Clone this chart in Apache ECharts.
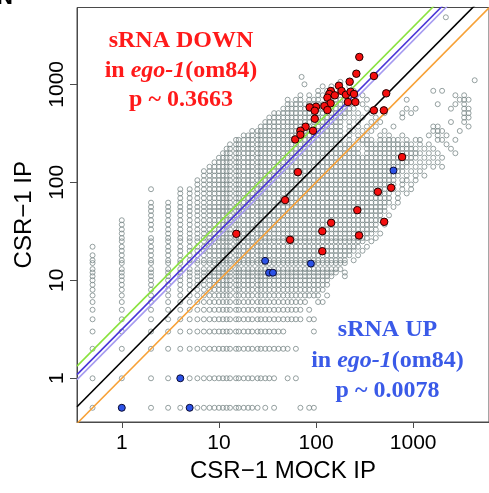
<!DOCTYPE html>
<html><head><meta charset="utf-8">
<script src="https://cdn.jsdelivr.net/npm/echarts@6/dist/echarts.min.js"></script>
<style>html,body{margin:0;padding:0;background:#fff;overflow:hidden}#c{width:489px;height:493px}</style>
</head><body><div id="c"></div>
<script>
// ---- data ----
const tickValues = [1, 10, 100, 1000];
// x values of the gray gene cloud (columns)
const xLadder = [0.5,1,2,3,4,5,6,7,8,9,
  10,11,12,13,15,16,18,20,22,25,
  27,30,33,37,41,46,51,56,62,69,
  77,85,95,105,117,130,144,160,178,198,
  220,244,271,301,334,371,412,458,508,564,
  627,696,773,858,953,1060,1175,1305,1450,1610,
  1790,1985,2205,2450,2720,3020,3350,3720,4130,4590];
// y values of the gray gene cloud (rows, top to bottom)
const yLadder = [1060,953,858,773,696,627,564,508,458,412,
  371,334,301,271,244,220,198,178,160,144,
  130,117,105,95,85,77,69,62,56,51,
  46,41,37,33,30,27,25,22,20,18,
  16,15,13,12,11,10,9,8,7,6,
  5,4,3,2,1,0.5];
// occupancy of each (row, column): 'o' = a gray gene is there
const grayMask = [
".......... .......... .......... ........o. .......... .......... ..........",
".......... .......... .......... ....o.o... o......... .......... ..........",
".......... .......... .......... ...o.o..o. .o........ .........o .o........",
".......... .......... .........o .o.oo.oo.o .o.o...... .......... ....o.o...",
".......... .......... ......o.oo .ooo.o.oo. o...o..... ...o...... .....ooo..",
".......... .......... ......oooo oooooooooo o..o...... .......... o...o.o...",
".......... .......... .....ooooo oooooooooo oo..o..... ...o.o.... ...o..oo..",
".......... .......... ...ooooooo oooooooooo o.o..o..o. ..o.o..... ......oo..",
".......... .......... ..oooooooo oooooooooo .o.o..o... ..o....... ......oo..",
".......... .......... .ooooooooo ooooooooo. o.o..o.o.. .......... ...o..o...",
".......... .......... oooooooooo ooooooooo. o.o.o.o... o........o o......o..",
".......... ........oo oooooooooo ooooooooo. oo.o.o..o. .........o oo...o....",
".......... ......oooo oooooooooo ooooooooo. o.o.o..o.o ..o.....o. o.o.......",
".......... ....oooooo oooooooooo ooooooooo. o.oooo.ooo oo.o.oo... oo..o.....",
".......... ...ooooooo oooooooooo oooooooooo oo.ooooooo ooooo.o.o. ..o.......",
".......... ..oooooooo oooooooooo oooooooooo ooo.oooooo oooooo.o.o ...o......",
".......... .ooooooooo oooooooooo oooooooooo ooo.oooooo ooooooo.o. o...o.....",
".......... oooooooooo oooooooooo oooooooooo oooooooooo oooooo.o.o .o........",
".........o oooooooooo oooooooooo oooooooooo oooooooooo ooooo.o.o. o.........",
"........oo oooooooooo oooooooooo oooooooooo oooooooooo oooo.o.o.o .o........",
".......ooo oooooooooo oooooooooo oooooooooo oooooooooo ooo.o.o... ..........",
".......ooo oooooooooo oooooooooo oooooooooo oooooooooo oo.o.o.o.. ..........",
"......oooo oooooooooo oooooooooo oooooooooo oooooooooo o.oo.o.... ..........",
"......oooo oooooooooo oooooooooo oooooooooo oooooooooo o.o.o..... ..........",
"..o.oooooo oooooooooo oooooooooo oooooooooo ooooooooo. o.o.o..... ..........",
"....oooooo oooooooooo oooooooooo oooooooooo oooooooooo .o.o...... ..........",
"....oooooo oooooooooo oooooooooo oooooooooo oooooooooo .o........ ..........",
"..oooooooo oooooooooo oooooooooo oooooooooo oooooooooo .o........ ..........",
"..oooooooo oooooooooo oooooooooo oooooooooo ooooooooo. o......... ..........",
"..oooooooo oooooooooo oooooooooo oooooooooo ooooooooo. .......... ..........",
"..oooooooo oooooooooo oooooooooo oooooooooo oooooooo.o .......... ..........",
".ooooooooo oooooooooo oooooooooo oooooooooo oooooooo.. .......... ..........",
".ooooooooo oooooooooo oooooooooo oooooooooo ooooooo.o. .......... ..........",
".ooooooooo oooooooooo oooooooooo oooooooooo ooooooo... .......... ..........",
".o.ooooooo oooooooooo oooooooooo oooooooooo oooooo.o.. .......... ..........",
".ooooooooo oooooooooo oooooooooo oooooooooo ooooo.o... .......... ..........",
".ooooooooo oooooooooo oooooooooo oooooooooo oooo.o.... .......... ..........",
"oooooooooo oooooooooo oooooooooo oooooooooo ooo.o..... .......... ..........",
".ooooooooo oooooooooo oooooooooo oooooooooo oo.o...... .......... ..........",
"oooooooooo oooooooooo oooooooooo oooooooooo o.o....... .......... ..........",
"oooooooooo oooooooooo oooooooooo oooooooooo .o........ .......... ..........",
"oooooooooo oooooooooo oooooooooo oooooooooo .......... .......... ..........",
"oooooooooo oooooooooo oooooooooo ooooooooo. .......... .......... ..........",
"oooooooooo oooooooooo oooooooooo oooooooo.o .......... .......... ..........",
"oooooooooo oooooooooo oooooooooo ooooooo..o .......... .......... ..........",
"oooooooooo oooooooooo oooooooooo oooooo.... .......... .......... ..........",
"oooooooooo oooooooooo oooooooooo oooooo.... .......... .......... ..........",
"oooooooooo oooooooooo oooooooooo ooooo..... .......... .......... ..........",
"oooooooooo oooooooooo oooooooooo oooo.o.... .......... .......... ..........",
"oooooooooo oooooooooo oooooooooo o..oo..... .......... .......... ..........",
"oooooooooo oooooooooo oooooooooo .o........ .......... .......... ..........",
"oooooooooo oooooooooo oooooooooo .oo....... .......... .......... ..........",
"oooooooooo oooooooooo oooooo.... ..o....... .......... .......... ..........",
"oooooooooo oooooooooo ooooooo.o. .......... .......... .......... ..........",
"oooo.ooooo oooooooooo oooo..o.o. .......... .......... .......... ..........",
"o.ooo.oooo oooooooooo .o.o.....o .oo....... .......... .......... .........."
];
const grayExtra = [[71,1190],[76,1000],[2170,4830],[4300,1100]];
const redPoints = [[279,1900],[260,1283],[222,1063],[172,968],[142,855],[137,796],[156,772],
  [131,730],[183,855],[203,783],[227,840],[141,640],[122,600],[131,546],[100,590],[86,582],
  [97,537],[97,445],[78,369],[69,336],[61,274],[69,306],[93,336],[213,659],[254,659],[246,796],
  [394,1216],[528,809],[394,542],[499,542],
  [769,181],[433,80],[593,88],[266,52],[503,39.5],[143,38.6],[116,31.7],[277,28.7],[54,25.9],
  [116,19.8],[15.1,29.8],[65,127],[48,65.8]];
const bluePoints = [[627,132],[29.9,15.8],[32.8,11.95],[36,11.95],[88.5,14.8],[4,1],[1,0.5],[5,0.5]];
// y = ratio * x reference lines: orange, black, lavender, blue, green
const lineRatios = [1.0, 1.48, 2.8, 3.15, 3.85];
const downText = ['sRNA DOWN', 'in ', 'ego-1', '(om84)', 'p ~ 0.3663'];
const upText = ['sRNA UP', 'in ', 'ego-1', '(om84)', 'p ~ 0.0078'];
const panelLetter = 'N';

// ---- build ----
const grayPoints = [];
grayMask.forEach((row, r) => {
  const s = row.replace(/ /g, '');
  for (let c = 0; c < s.length; c++) if (s[c] === 'o') grayPoints.push([xLadder[c], yLadder[r]]);
});
grayExtra.forEach(p => grayPoints.push(p));

const X_MIN = 0.3458, X_MAX = 6036, Y_MIN = 0.358, Y_MAX = 6079;
const lineColors = ['#f7a136', '#000000', '#a59af0', '#4a35d8', '#8ae23e'];
const lineSeries = lineRatios.map((k, i) => ({
  type: 'line', data: [[X_MIN, k * X_MIN], [X_MAX, k * X_MAX]],
  showSymbol: false, symbol: 'none', silent: true, z: 2, clip: true,
  lineStyle: { color: lineColors[i], width: 1.6 }
}));

const serif = '"Liberation Serif", "Times New Roman", serif';
const sans = '"Liberation Sans", Arial, Helvetica, sans-serif';
function richLine(parts) {
  return '{n|' + parts[1] + '}{i|' + parts[2] + '}{n|' + parts[3] + '}';
}
function textBlock(t, cx, ys, color) {
  const base = { fontFamily: serif, fontWeight: 'bold', fontSize: 24, fill: color };
  return [
    { type: 'text', x: cx, y: ys[0], style: Object.assign({ text: t[0], align: 'center', verticalAlign: 'middle' }, base), z: 10 },
    { type: 'text', x: cx, y: ys[1], style: Object.assign({ text: richLine(t), align: 'center', verticalAlign: 'middle',
        rich: { n: Object.assign({}, base), i: Object.assign({ fontStyle: 'italic' }, base) } }, base), z: 10 },
    { type: 'text', x: cx, y: ys[2], style: Object.assign({ text: t[4], align: 'center', verticalAlign: 'middle' }, base), z: 10 }
  ];
}

const chart = echarts.init(document.getElementById('c'), null, { renderer: 'canvas' });
chart.setOption({
  animation: false,
  backgroundColor: '#fff',
  grid: { left: 77, right: -2, top: 7.5, bottom: 71, show: true, borderColor: '#4a4a4a', borderWidth: 1, backgroundColor: 'transparent' },
  xAxis: {
    type: 'log', logBase: 10, min: X_MIN, max: X_MAX,
    axisLine: { show: true, lineStyle: { color: '#4a4a4a', width: 1 } },
    axisTick: { show: true, length: 6, customValues: tickValues, lineStyle: { color: '#4a4a4a' } },
    axisLabel: { customValues: tickValues, fontSize: 21, fontFamily: sans, color: '#000', margin: 11,
      formatter: v => String(Math.round(v)) },
    splitLine: { show: false },
    name: 'CSR\u22121 MOCK IP', nameLocation: 'middle', nameGap: 35,
    nameTextStyle: { fontSize: 24, fontFamily: sans, color: '#000' }
  },
  yAxis: {
    type: 'log', logBase: 10, min: Y_MIN, max: Y_MAX,
    axisLine: { show: true, lineStyle: { color: '#4a4a4a', width: 1 } },
    axisTick: { show: true, length: 7, customValues: tickValues, lineStyle: { color: '#4a4a4a' } },
    axisLabel: { customValues: tickValues, fontSize: 21, fontFamily: sans, color: '#000', margin: 9, rotate: 90,
      formatter: v => String(Math.round(v)) },
    splitLine: { show: false },
    name: 'CSR\u22121 IP', nameLocation: 'middle', nameGap: 41,
    nameTextStyle: { fontSize: 24, fontFamily: sans, color: '#000' }
  },
  series: [
    { type: 'scatter', data: grayPoints, symbol: 'circle', symbolSize: 5, silent: true, z: 1,
      itemStyle: { color: 'rgba(255,255,255,0)', borderColor: '#7c8a8a', borderWidth: 1 } },
    ...lineSeries,
    { type: 'scatter', data: redPoints, symbol: 'circle', symbolSize: 7.5, silent: true, z: 3,
      itemStyle: { color: '#f50f0f', borderColor: '#200000', borderWidth: 1, opacity: 1 } },
    { type: 'scatter', data: bluePoints, symbol: 'circle', symbolSize: 7, silent: true, z: 3,
      itemStyle: { color: '#2c52e6', borderColor: '#0a0a30', borderWidth: 1, opacity: 1 } }
  ],
  graphic: [
    { type: 'text', x: -3, y: 9, z: 10, style: { text: panelLetter, align: 'left', verticalAlign: 'bottom',
      fontFamily: sans, fontWeight: 'bold', fontSize: 22, fill: '#000' } },
    ...textBlock(downText, 181, [40.5, 70.5, 99.5], '#ff1a1a'),
    ...textBlock(upText, 387.5, [330, 360.5, 390.5], '#3a5ae8')
  ]
});
</script></body></html>
